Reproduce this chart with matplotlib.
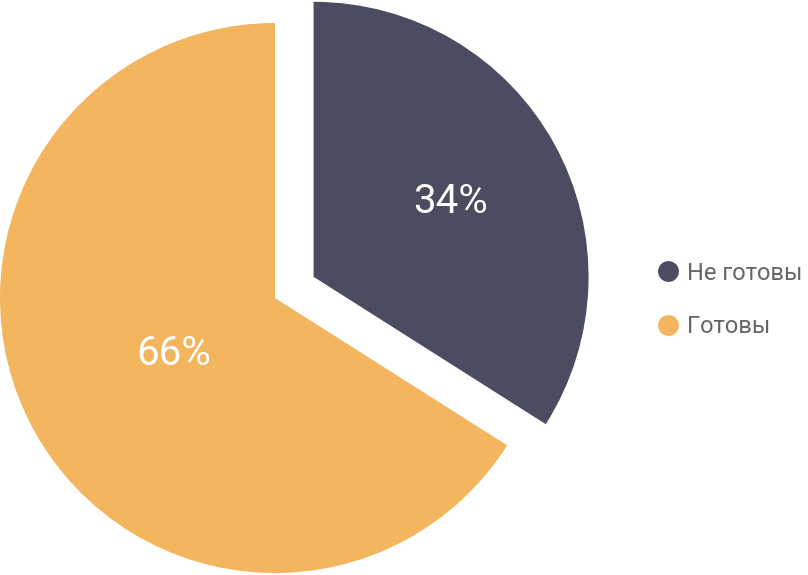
import numpy as np
import matplotlib.pyplot as plt
from matplotlib.lines import Line2D

# ── Data ──────────────────────────────────────────────────────────────────
labels = ["Не готовы", "Готовы"]
values = [34, 66]
colors = ["#4b4c60", "#f3b55e"]
explode = [0.16, 0.0]          # fraction of the radius
label_dist = [0.57, 0.42]

W, H = 808, 575
fig = plt.figure(figsize=(W / 100, H / 100), dpi=100)
ax = fig.add_axes([0, 0, 1, 1])

cx, cy, r = 275, 277, 275
# pie() offsets exploded wedges in data units, so scale by the radius
wedges, _ = ax.pie(values, colors=colors, explode=[e * r for e in explode],
                   startangle=90, counterclock=False, center=(cx, cy), radius=r,
                   wedgeprops=dict(linewidth=0))
ax.set_xlim(0, W)
ax.set_ylim(0, H)
ax.set_aspect("equal")
ax.axis("off")

for w, v, d in zip(wedges, values, label_dist):
    mid = np.deg2rad((w.theta1 + w.theta2) / 2)
    x0, y0 = w.center
    ax.text(x0 + d * r * np.cos(mid), y0 + d * r * np.sin(mid), f"{v}%",
            ha="center", va="center", color="white", fontsize=29,
            family="Roboto", fontweight="normal")

handles = [Line2D([], [], marker="o", linestyle="", markersize=15,
                  markerfacecolor=c, markeredgewidth=0) for c in colors]
leg = ax.legend(handles, labels, loc="center left",
                bbox_to_anchor=(656 / W, 1 - 300 / H), bbox_transform=fig.transFigure,
                frameon=False, labelspacing=1.3, handletextpad=0.3,
                handlelength=1.0, borderaxespad=0, borderpad=0,
                prop=dict(family="Roboto", size=17))
for t in leg.get_texts():
    t.set_color("#666666")

fig.savefig("out.png", dpi=100)
